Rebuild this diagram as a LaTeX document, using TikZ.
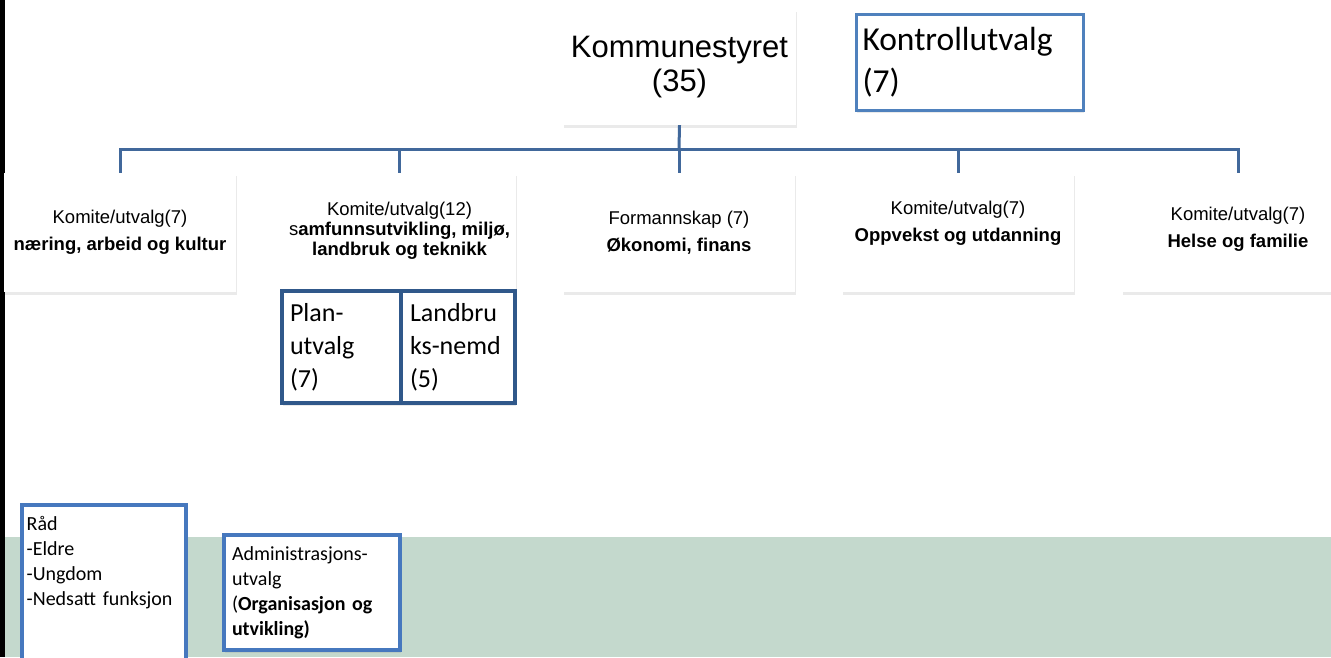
\documentclass[tikz,border=0pt]{standalone}
\usepackage{fontspec}
\setmainfont{Liberation Sans}
\newfontfamily\calib{Carlito}
\usetikzlibrary{shadows}
\definecolor{linkblue}{HTML}{41689B}
\definecolor{ctrlblue}{HTML}{4F81BD}
\definecolor{subblue}{HTML}{30588A}
\definecolor{raadblue}{HTML}{4678BE}
\definecolor{bandgreen}{HTML}{C4D9CD}
\tikzset{
  softshadow/.style={drop shadow={shadow xshift=1pt,shadow yshift=-2.5pt,opacity=0.16}},
  unit/.style={fill=white,minimum width=232pt,minimum height=119pt,inner sep=0pt,softshadow},
  info/.style={align=center,inner sep=0pt,font=\fontsize{18.5}{27}\selectfont},
  council/.style={fill=white,minimum width=233pt,minimum height=116pt,inner sep=0pt,align=center,
    font=\fontsize{31}{34}\selectfont,softshadow},
  ctrl/.style={draw=ctrlblue,line width=3pt,fill=white,minimum height=96pt,inner xsep=6.5pt,
    text width=214pt,align=left,font=\calib\fontsize{33.5}{42}\selectfont,softshadow},
  subunit/.style={draw=subblue,line width=4.5pt,fill=white,minimum height=112pt,inner xsep=8pt,
    align=left,font=\calib\fontsize{26}{33}\selectfont,softshadow},
  raad/.style={draw=raadblue,line width=3.5pt,fill=white,inner xsep=5pt,text width=154pt,
    align=left,font=\calib\fontsize{20}{25}\selectfont},
  link/.style={draw=linkblue,line width=3pt}
}
\begin{document}
\begin{tikzpicture}[x=1pt,y=-1pt]
\useasboundingbox (0,0) rectangle (1331,657);
\fill[white] (0,0) rectangle (1331,657);
\fill[bandgreen] (5,537) rectangle (1331,657);
\fill[black] (0,0) rectangle (5,657);

% top level
\node[council] (kom) at (679.5,67) {Kommunestyret\\(35)};
\node[ctrl] (ktr) at (969.5,62) {Kontrollutvalg\\(7)};

% committees
\node[unit] (n1) at (120,232.5) {};
\node[unit] (n2) at (399.5,232.5) {};
\node[unit] (n3) at (679,232.5) {};
\node[unit] (n4) at (958,232.5) {};
\node[unit] (n5) at (1238,232.5) {};
\node[info] (t1) at (n1) {Komite/utvalg(7)\\\textbf{næring, arbeid og kultur}};
\node[info,font=\fontsize{18.5}{20}\selectfont] (t2) at ([yshift=2pt]n2) {Komite/utvalg(12)\\s\textbf{amfunnsutvikling, miljø,}\\\textbf{landbruk og teknikk}};
\node[info] (t3) at (n3) {Formannskap (7)\\\textbf{Økonomi, finans}};
\node[info] (t4) at ([yshift=9pt]n4) {Komite/utvalg(7)\\\textbf{Oppvekst og utdanning}};
\node[info] (t5) at ([yshift=3pt]n5) {Komite/utvalg(7)\\\textbf{Helse og familie}};

% sub-committees
\node[subunit,minimum width=119pt,text width=103pt] (plan) at (341.5,347) {Plan-\\utvalg\\(7)};
\node[subunit,minimum width=114pt,text width=96pt] (lbn) at (458,347) {Landbru\\ks-nemd\\(5)};

% councils
\node[raad,anchor=north west,inner ysep=12pt,text depth=140pt] (raad) at (20,503) {Råd\\-Eldre\\-Ungdom\\-Nedsatt funksjon};
\node[raad,text width=160pt,inner xsep=8pt,minimum height=115pt,softshadow] (adm) at (312,592.5) {Administrasjons-\\utvalg\\(\textbf{Organisasjon og}\\\textbf{utvikling)}};

% lines
\coordinate (bus) at (679,149);
\draw[link] (kom.south) -- (bus);
\draw[link] (n1.north) |- (bus) -| (n5.north);
\draw[link] (n2.north) -- (n2.north |- bus);
\draw[link] (n3.north) -- (bus);
\draw[link] (n4.north) -- (n4.north |- bus);
\end{tikzpicture}
\end{document}
